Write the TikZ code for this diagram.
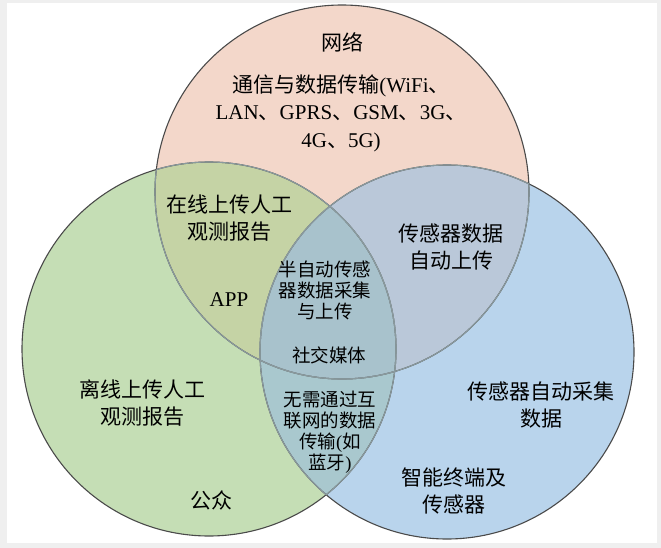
\documentclass[tikz,border=0pt]{standalone}
\usepackage{fontspec}
\setmainfont{Liberation Serif}
\newfontfamily\cjk{Noto Sans CJK SC}
\definecolor{bggray}{HTML}{EFEFEF}
\definecolor{pinkc}{HTML}{F3D7CA}
\definecolor{greenc}{HTML}{C5DEB5}
\definecolor{bluec}{HTML}{B9D4EC}
\definecolor{pgc}{HTML}{C5D3A5}
\definecolor{pbc}{HTML}{BAC8D9}
\definecolor{gbc}{HTML}{A9C8CE}
\definecolor{allc}{HTML}{A8C2CC}
\definecolor{outline}{HTML}{4A4A4A}
\definecolor{innerline}{HTML}{8A9A9E}
\begin{document}
\begin{tikzpicture}[x=1pt,y=-1pt,
  lbl/.style={align=center,inner sep=0pt,font=\fontsize{21}{27.5}\selectfont},
  sml/.style={align=center,inner sep=0pt,font=\fontsize{18.5}{21}\selectfont},
  outerline/.style={draw=outline,line width=1.1pt},
  innerarc/.style={draw=innerline,line width=1.1pt}]
\def\crad{187pt}
\useasboundingbox (0,0) rectangle (661,548);
\fill[bggray] (0,0) rectangle (661,548);
\fill[white] (7,3) rectangle (657,543);
\coordinate (P) at (342,192);
\coordinate (G) at (209,349);
\coordinate (B) at (447,352);
% base fills
\fill[pinkc] (P) circle[radius=\crad];
\fill[greenc] (G) circle[radius=\crad];
\fill[bluec] (B) circle[radius=\crad];
% overlaps
\begin{scope}
  \clip (P) circle[radius=\crad];
  \fill[pgc] (G) circle[radius=\crad];
  \fill[pbc] (B) circle[radius=\crad];
\end{scope}
\begin{scope}
  \clip (G) circle[radius=\crad];
  \fill[gbc] (B) circle[radius=\crad];
  \clip (P) circle[radius=\crad];
  \fill[allc] (B) circle[radius=\crad];
\end{scope}
% outlines
\draw[outerline] (P) circle[radius=\crad];
\draw[outerline] (G) circle[radius=\crad];
\draw[outerline] (B) circle[radius=\crad];
% lighter arcs inside other circles
\begin{scope}\clip (G) circle[radius=\crad]; \draw[innerarc] (P) circle[radius=\crad]; \draw[innerarc] (B) circle[radius=\crad];\end{scope}
\begin{scope}\clip (B) circle[radius=\crad]; \draw[innerarc] (P) circle[radius=\crad]; \draw[innerarc] (G) circle[radius=\crad];\end{scope}
\begin{scope}\clip (P) circle[radius=\crad]; \draw[innerarc] (G) circle[radius=\crad]; \draw[innerarc] (B) circle[radius=\crad];\end{scope}
% labels
\node[lbl] (net) at (342,42) {\cjk 网络};
\node[lbl] (comm) at (341,113) {{\cjk 通信与数据传输}(WiFi{\cjk 、}\\LAN{\cjk 、}GPRS{\cjk 、}GSM{\cjk 、}3G{\cjk 、}\\4G{\cjk 、}5G)};
\node[lbl] (online) at (229,218) {\cjk 在线上传人工\\\cjk 观测报告};
\node[lbl] (app) at (229,300) {APP};
\node[lbl] (offline) at (142,403) {\cjk 离线上传人工\\\cjk 观测报告};
\node[lbl] (public) at (211,500) {\cjk 公众};
\node[sml] (semi) at (325,290) {\cjk 半自动传感\\\cjk 器数据采集\\\cjk 与上传};
\node[sml] (social) at (329,355) {\cjk 社交媒体};
\node[sml] (noint) at (330,432) {\cjk 无需通过互\\\cjk 联网的数据\\{\cjk 传输}({\cjk 如}\\{\cjk 蓝牙})};
\node[lbl] (sensorup) at (451,247) {\cjk 传感器数据\\\cjk 自动上传};
\node[lbl] (sensorauto) at (541,405) {\cjk 传感器自动采集\\\cjk 数据};
\node[lbl] (smart) at (454,491) {\cjk 智能终端及\\\cjk 传感器};
\end{tikzpicture}
\end{document}
